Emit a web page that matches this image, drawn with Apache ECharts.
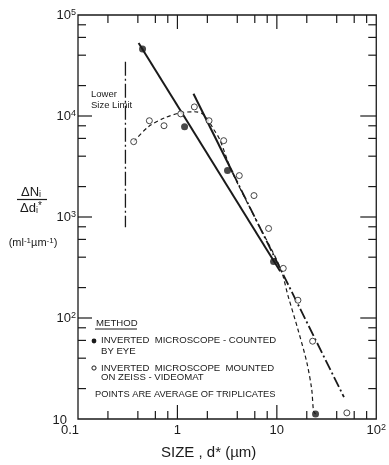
<!DOCTYPE html>
<html>
<head>
<meta charset="utf-8">
<script src="https://cdn.jsdelivr.net/npm/echarts@6/dist/echarts.min.js"></script>
<style>
html,body{margin:0;padding:0;background:#fff;}
#c{width:389px;height:465px;}
</style>
</head>
<body>
<div id="c"></div>
<script>
// ---- data ----
// Method 1: inverted microscope, counted by eye (filled circles)  [size µm, ΔN/Δd]
const countedByEye = [[0.446, 46100], [1.18, 7830], [3.19, 2880], [9.27, 363], [24.5, 11.2]];
// Method 2: inverted microscope on Zeiss-Videomat (open circles)
const zeissVideomat = [[0.363, 5570], [0.522, 8980], [0.733, 8010], [1.08, 10500], [1.48, 12300],
  [2.08, 8980], [2.92, 5700], [4.19, 2570], [5.89, 1630], [8.26, 770], [11.6, 310],
  [16.3, 150], [22.9, 58.9], [50.6, 11.5]];
// fitted solid line (counted by eye)
const lineFitA = [[0.407, 52800], [10.8, 290]];
// fitted line (videomat): solid part then dash-dot part
const lineFitBSolid = [[1.45, 16600], [3.6, 2740]];
const lineFitBDashDot = [[3.6, 2740], [47.3, 16.5]];
// dashed curve through videomat points
const dashedCurve = [[0.363, 5570], [0.511, 7830], [0.75, 9620], [1.08, 10760], [1.48, 11020],
  [1.85, 10280], [2.33, 7310], [2.67, 5820], [3.5, 2880], [6.0, 990], [10.8, 315],
  [13.0, 164], [16.3, 77], [20.0, 36.5], [22.4, 19.8], [23.4, 12.0], [24.5, 11.2]];
// lower size limit
const lowerLimit = [[0.3, 34400], [0.3, 790]];
// tick positions
const xTicksMajor = [1, 10];
const xTicksMinor = [0.2, 0.4, 0.6, 0.8, 2, 4, 6, 8, 20, 40, 60, 80];
const yTicksMajor = [100, 1000, 10000];
const yTicksMinor = [20, 40, 60, 80, 200, 400, 600, 800, 2000, 4000, 6000, 8000, 20000, 40000, 60000, 80000];

const INK = '#1a1a1a';
const FONT = '"Liberation Sans", Arial, sans-serif';

const chart = echarts.init(document.getElementById('c'), null, {renderer: 'canvas'});

function tickSeries(isX) {
  const data = [];
  (isX ? xTicksMajor : yTicksMajor).forEach(v => data.push(isX ? [v, 10, 1] : [0.1, v, 1]));
  (isX ? xTicksMinor : yTicksMinor).forEach(v => data.push(isX ? [v, 10, 0] : [0.1, v, 0]));
  return {
    type: 'custom', silent: true, clip: false, z: 5,
    data: data,
    renderItem: function (params, api) {
      const cs = params.coordSys;
      const major = api.value(2) === 1;
      const len = major ? 14 : 8;
      const st = {stroke: INK, lineWidth: 1.2};
      if (isX) {
        const px = api.coord([api.value(0), 10])[0];
        const yb = cs.y + cs.height, yt = cs.y;
        return {type: 'group', children: [
          {type: 'line', shape: {x1: px, y1: yb, x2: px, y2: yb - len}, style: st},
          {type: 'line', shape: {x1: px, y1: yt, x2: px, y2: yt + len}, style: st}
        ]};
      } else {
        const py = api.coord([0.1, api.value(1)])[1];
        const xl = cs.x, xr = cs.x + cs.width;
        return {type: 'group', children: [
          {type: 'line', shape: {x1: xl, y1: py, x2: xl + len, y2: py}, style: st},
          {type: 'line', shape: {x1: xr, y1: py, x2: xr - len - (major ? 2 : 0), y2: py}, style: st}
        ]};
      }
    }
  };
}

const option = {
  backgroundColor: '#fff',
  animation: false,
  grid: {left: 78, right: 6, top: 15, bottom: 45, show: true, borderColor: INK, borderWidth: 1.3, backgroundColor: 'transparent'},
  xAxis: {
    type: 'log', logBase: 10, min: 0.1, max: 100,
    axisLine: {show: false}, axisTick: {show: false}, splitLine: {show: false},
    axisLabel: {
      margin: 4, color: INK, fontFamily: FONT, fontSize: 13,
      formatter: function (v) {
        const e = Math.round(Math.log10(v));
        if (e === -1) return '{f|0.1}';
        if (e === 0) return '{n|1}';
        if (e === 1) return '{n|10}';
        return '{n|10}{s|' + e + '}';
      },
      rich: {
        n: {fontSize: 13, fontFamily: FONT, color: INK, lineHeight: 14},
        f: {fontSize: 13, fontFamily: FONT, color: INK, lineHeight: 14, padding: [0, 16, 0, 0]},
        s: {fontSize: 9, fontFamily: FONT, color: INK, verticalAlign: 'top', lineHeight: 9}
      }
    },
    name: 'SIZE , d* (µm)', nameLocation: 'middle', nameGap: 26,
    nameTextStyle: {fontSize: 15, fontFamily: FONT, color: INK, padding: [0, 37, 0, 0]}
  },
  yAxis: {
    type: 'log', logBase: 10, min: 10, max: 100000,
    axisLine: {show: false}, axisTick: {show: false}, splitLine: {show: false},
    axisLabel: {
      margin: 2, color: INK, fontFamily: FONT, fontSize: 13,
      formatter: function (v) {
        const e = Math.round(Math.log10(v));
        if (e === 1) return '{m|10}';
        return '{n|10}{s|' + e + '}';
      },
      rich: {
        n: {fontSize: 13, fontFamily: FONT, color: INK, lineHeight: 14},
        m: {fontSize: 13, fontFamily: FONT, color: INK, lineHeight: 14, padding: [2, 9, 0, 0]},
        s: {fontSize: 9, fontFamily: FONT, color: INK, verticalAlign: 'top', lineHeight: 9}
      }
    }
  },
  series: [
    {type: 'line', name: 'lower limit', data: lowerLimit, symbol: 'none', z: 2,
     lineStyle: {color: INK, width: 1.3, type: [14, 3, 2, 3]}},
    {type: 'line', name: 'fit A', data: lineFitA, symbol: 'none', z: 2,
     lineStyle: {color: INK, width: 2}},
    {type: 'line', name: 'fit B', data: lineFitBSolid, symbol: 'none', z: 2,
     lineStyle: {color: INK, width: 2}},
    {type: 'line', name: 'fit B2', data: lineFitBDashDot, symbol: 'none', z: 2,
     lineStyle: {color: INK, width: 1.8, type: [11, 3, 2, 3]}},
    {type: 'line', name: 'curve', data: dashedCurve, symbol: 'none', smooth: 0.3, z: 2,
     lineStyle: {color: INK, width: 1.2, type: [4, 3]}},
    {type: 'scatter', name: 'INVERTED MICROSCOPE - COUNTED BY EYE', data: countedByEye, symbol: 'circle', symbolSize: 7, z: 4,
     itemStyle: {color: INK}},
    {type: 'scatter', name: 'INVERTED MICROSCOPE MOUNTED ON ZEISS - VIDEOMAT', data: zeissVideomat, symbol: 'circle', symbolSize: 6, z: 4,
     itemStyle: {color: '#fff', borderColor: INK, borderWidth: 1}},
    tickSeries(true),
    tickSeries(false)
  ],
  graphic: [
    // y axis title (fraction)
    {type: 'text', x: 31, y: 192, style: {text: '{a|ΔN}{b|i}', textAlign: 'center', textVerticalAlign: 'middle', fill: INK,
      rich: {a: {fontSize: 13, fontFamily: FONT, fill: INK, lineHeight: 14}, b: {fontSize: 9, fontFamily: FONT, fill: INK, verticalAlign: 'bottom', lineHeight: 9}}}},
    {type: 'line', shape: {x1: 17, y1: 199.5, x2: 47, y2: 199.5}, style: {stroke: INK, lineWidth: 1.2}},
    {type: 'text', x: 31, y: 208, style: {text: '{a|Δd}{b|i}{c|*}', textAlign: 'center', textVerticalAlign: 'middle', fill: INK,
      rich: {a: {fontSize: 13, fontFamily: FONT, fill: INK, lineHeight: 14}, b: {fontSize: 9, fontFamily: FONT, fill: INK, verticalAlign: 'bottom', lineHeight: 9}, c: {fontSize: 10, fontFamily: FONT, fill: INK, verticalAlign: 'top', lineHeight: 9}}}},
    {type: 'text', x: 33, y: 243, style: {text: '{a|(ml}{b|-1}{a|µm}{b|-1}{a|)}', textAlign: 'center', textVerticalAlign: 'middle', fill: INK,
      rich: {a: {fontSize: 11, fontFamily: FONT, fill: INK, lineHeight: 13}, b: {fontSize: 8, fontFamily: FONT, fill: INK, verticalAlign: 'top', lineHeight: 8}}}},
    // lower size limit label
    {type: 'text', x: 91, y: 89, style: {text: 'Lower\nSize Limit', font: '9.5px ' + FONT, fill: INK, lineHeight: 11, textAlign: 'left', textVerticalAlign: 'top'}},
    // legend block
    {type: 'text', x: 96, y: 323, style: {text: 'METHOD', font: '9.6px ' + FONT, fill: INK, textAlign: 'left', textVerticalAlign: 'middle'}},
    {type: 'line', shape: {x1: 95, y1: 329, x2: 137, y2: 329}, style: {stroke: INK, lineWidth: 1}},
    {type: 'circle', shape: {cx: 94, cy: 341, r: 2.4}, style: {fill: INK}},
    {type: 'text', x: 101, y: 340, style: {text: 'INVERTED  MICROSCOPE - COUNTED', font: '9.6px ' + FONT, fill: INK, textAlign: 'left', textVerticalAlign: 'middle'}},
    {type: 'text', x: 101, y: 351, style: {text: 'BY EYE', font: '9.6px ' + FONT, fill: INK, textAlign: 'left', textVerticalAlign: 'middle'}},
    {type: 'circle', shape: {cx: 94, cy: 368, r: 2.1}, style: {fill: '#fff', stroke: INK, lineWidth: 1}},
    {type: 'text', x: 101, y: 368, style: {text: 'INVERTED  MICROSCOPE  MOUNTED', font: '9.6px ' + FONT, fill: INK, textAlign: 'left', textVerticalAlign: 'middle'}},
    {type: 'text', x: 101, y: 377, style: {text: 'ON ZEISS - VIDEOMAT', font: '9.6px ' + FONT, fill: INK, textAlign: 'left', textVerticalAlign: 'middle'}},
    {type: 'text', x: 95, y: 394, style: {text: 'POINTS ARE AVERAGE OF TRIPLICATES', font: '9.3px ' + FONT, fill: INK, textAlign: 'left', textVerticalAlign: 'middle'}}
  ]
};
chart.setOption(option);
</script>
</body>
</html>
